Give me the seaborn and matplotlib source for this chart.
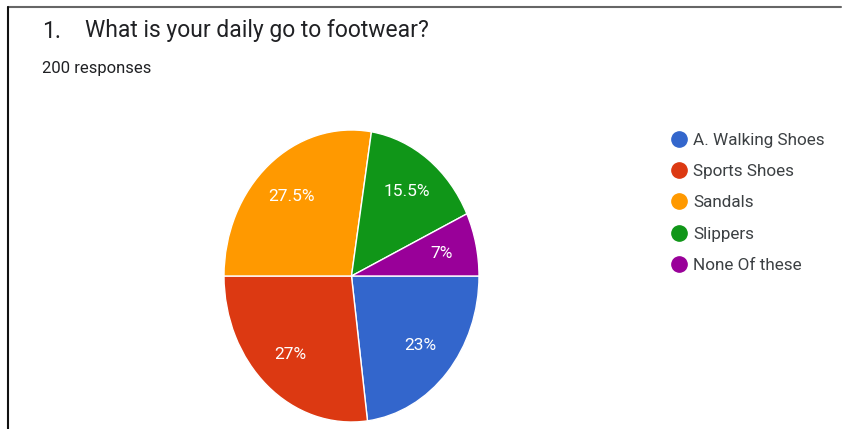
import matplotlib
matplotlib.use("Agg")
import matplotlib.pyplot as plt
from matplotlib.lines import Line2D
import numpy as np
import seaborn as sns

# Survey answers (share of 200 responses, in %)
options = ["A. Walking Shoes", "Sports Shoes", "Sandals", "Slippers", "None Of these"]
shares = [23, 27, 27.5, 15.5, 7]
pct_labels = ["23%", "27%", "27.5%", "15.5%", "7%"]
colors = ["#3366cc", "#dc3912", "#ff9900", "#109618", "#990099"]

sns.set_theme(style="white")
plt.rcParams["font.family"] = ["Roboto", "DejaVu Sans"]
palette = sns.color_palette(colors)

fig = plt.figure(figsize=(8.42, 4.29), dpi=100)
fig.patch.set_facecolor("white")

W, H = 842, 429
ax = fig.add_axes([224 / W, (H - 422) / H, 255 / W, 292 / H])
wedges, _ = ax.pie(
    shares,
    colors=palette,
    startangle=0,
    counterclock=False,
    radius=1.0,
    wedgeprops=dict(edgecolor="white", linewidth=1.0),
)
# percentage labels placed at ~70% of the radius along each wedge's middle
for w, lab in zip(wedges, pct_labels):
    mid = np.deg2rad((w.theta1 + w.theta2) / 2)
    r = 0.72
    ax.text(r * np.cos(mid), r * np.sin(mid), lab, ha="center", va="center",
            color="white", fontsize=12.5)
ax.set_aspect("auto")
ax.set_xlim(-1, 1)
ax.set_ylim(-1, 1)
ax.axis("off")

# Title block
fig.text(42 / W, 1 - 31 / H, "1.", fontsize=16.5, color="#202124",
         va="center", ha="left")
fig.text(85 / W, 1 - 31 / H, "What is your daily go to footwear?",
         fontsize=16.5, color="#202124", va="center", ha="left")
fig.text(42 / W, 1 - 68 / H, "200 responses", fontsize=12,
         color="#202124", va="center", ha="left")

# Legend with round markers
handles = [Line2D([0], [0], marker="o", linestyle="none", markersize=11,
                  markerfacecolor=c, markeredgecolor=c) for c in palette]
fig.legend(handles, options, loc="upper left",
           bbox_to_anchor=(663 / W, 1 - 126 / H), frameon=False,
           fontsize=12.3, labelcolor="#3c4043", handletextpad=0.25,
           labelspacing=0.95, handlelength=1.1, borderaxespad=0)

# Frame lines along the top and left edges
fig.add_artist(Line2D([8 / W, 841 / W], [1 - 7 / H, 1 - 7 / H],
                      transform=fig.transFigure, color="#666666", linewidth=1.5))
fig.add_artist(Line2D([8 / W, 8 / W], [1 - 7 / H, 0],
                      transform=fig.transFigure, color="#111111", linewidth=1.5))

fig.savefig("out.png", dpi=100, facecolor="white")
